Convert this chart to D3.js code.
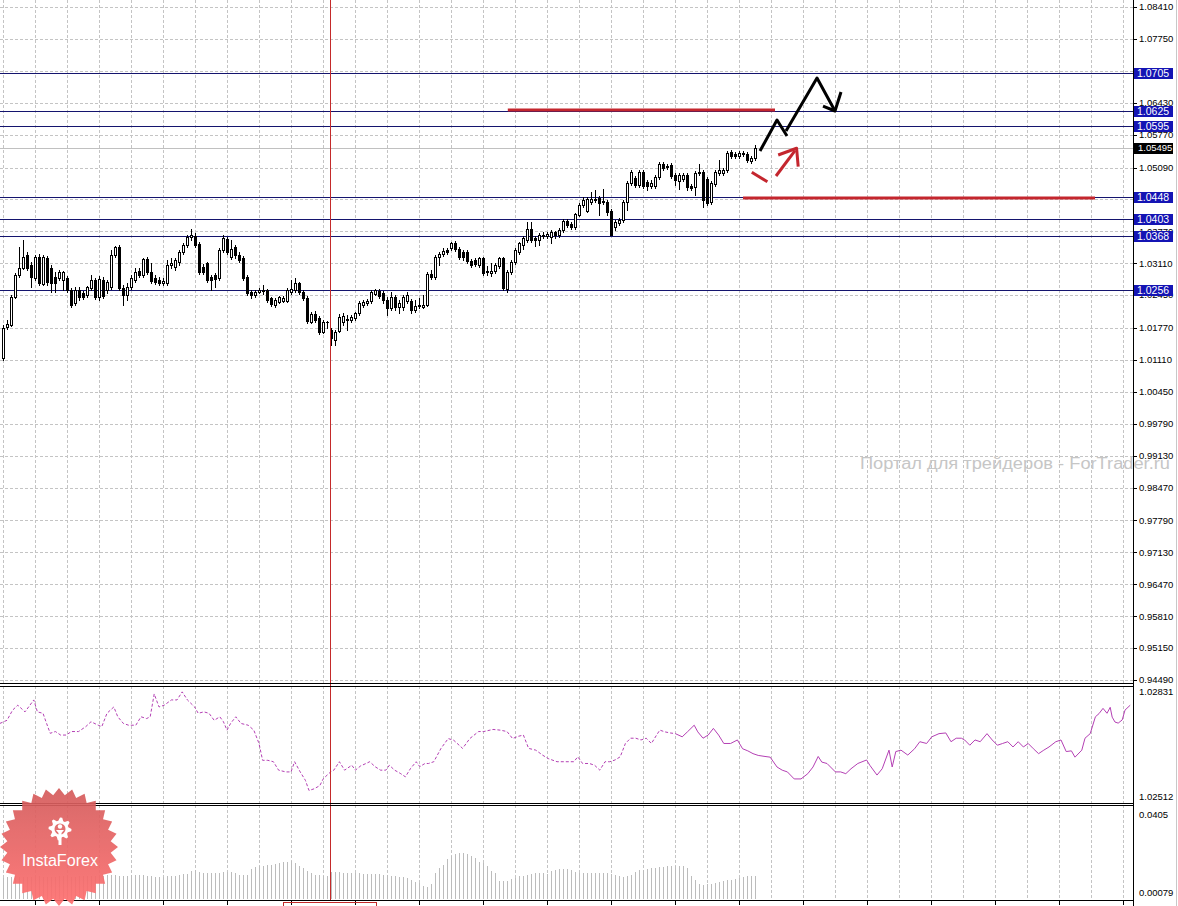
<!DOCTYPE html>
<html>
<head>
<meta charset="utf-8">
<script src="https://cdn.jsdelivr.net/npm/d3@7"></script>
<style>
  body { margin: 0; background: #fff; }
  svg { display: block; }
  text { font-family: "Liberation Sans", Arial, sans-serif; }
</style>
</head>
<body>
<svg id="chart" width="1178" height="906"></svg>
<script>
// EURUSD-style daily candles
const opens = [1.0115,1.0179,1.0183,1.0241,1.0286,1.0301,1.0328,1.0308,1.0280,1.0324,1.0268,1.0322,1.0301,1.0282,1.0280,1.0276,1.0280,1.0255,1.0229,1.0255,1.0249,1.0245,1.0259,1.0276,1.0241,1.0276,1.0255,1.0261,1.0328,1.0344,1.0259,1.0245,1.0261,1.0276,1.0295,1.0286,1.0320,1.0293,1.0280,1.0276,1.0270,1.0270,1.0307,1.0303,1.0314,1.0334,1.0349,1.0365,1.0367,1.0351,1.0303,1.0311,1.0282,1.0286,1.0280,1.0338,1.0361,1.0324,1.0344,1.0328,1.0322,1.0282,1.0251,
  1.0245,1.0251,1.0255,1.0255,1.0239,1.0225,1.0231,1.0233,1.0233,1.0251,1.0255,1.0270,1.0251,1.0239,1.0189,1.0206,1.0197,1.0169,1.0189,1.0173,1.0152,1.0171,1.0189,1.0193,1.0193,1.0197,1.0208,1.0225,1.0229,1.0233,1.0247,1.0253,1.0249,1.0235,1.0218,1.0241,1.0221,1.0221,1.0233,1.0233,1.0214,1.0225,1.0221,1.0225,1.0289,1.0282,1.0324,1.0330,1.0338,1.0342,1.0353,1.0340,1.0334,1.0334,1.0316,1.0318,1.0307,1.0322,1.0293,1.0291,1.0295,1.0305,1.0322,
  1.0257,1.0293,1.0314,1.0334,1.0349,1.0359,1.0382,1.0363,1.0359,1.0369,1.0367,1.0365,1.0376,1.0369,1.0380,1.0398,1.0392,1.0386,1.0411,1.0431,1.0419,1.0438,1.0442,1.0446,1.0438,1.0438,1.0419,1.0386,1.0394,1.0400,1.0438,1.0477,1.0487,1.0473,1.0500,1.0479,1.0471,1.0471,1.0490,1.0516,1.0512,1.0514,1.0494,1.0481,1.0485,1.0494,1.0471,1.0469,1.0498,1.0500,1.0485,1.0438,1.0475,1.0498,1.0498,1.0504,1.0541,1.0537,1.0533,1.0539,1.0537,1.0523,1.0529];
const highs = [1.0183,1.0193,1.0245,1.0290,1.0344,1.0359,1.0334,1.0314,1.0328,1.0330,1.0328,1.0326,1.0307,1.0293,1.0297,1.0295,1.0284,1.0259,1.0261,1.0261,1.0253,1.0263,1.0286,1.0280,1.0284,1.0282,1.0276,1.0338,1.0346,1.0348,1.0266,1.0270,1.0286,1.0301,1.0301,1.0322,1.0324,1.0311,1.0286,1.0282,1.0280,1.0318,1.0322,1.0322,1.0338,1.0353,1.0369,1.0382,1.0373,1.0355,1.0309,1.0314,1.0286,1.0290,1.0342,1.0369,1.0365,1.0359,1.0349,1.0334,1.0326,1.0286,1.0255,
  1.0255,1.0259,1.0266,1.0257,1.0241,1.0239,1.0243,1.0243,1.0259,1.0276,1.0280,1.0272,1.0255,1.0243,1.0210,1.0212,1.0202,1.0193,1.0191,1.0177,1.0173,1.0206,1.0208,1.0204,1.0204,1.0210,1.0233,1.0235,1.0237,1.0255,1.0257,1.0257,1.0253,1.0241,1.0251,1.0245,1.0235,1.0245,1.0251,1.0237,1.0235,1.0239,1.0245,1.0293,1.0297,1.0328,1.0334,1.0342,1.0342,1.0355,1.0357,1.0344,1.0338,1.0338,1.0320,1.0322,1.0324,1.0324,1.0305,1.0311,1.0311,1.0324,1.0324,
  1.0297,1.0318,1.0342,1.0355,1.0367,1.0396,1.0396,1.0367,1.0373,1.0376,1.0376,1.0380,1.0378,1.0384,1.0402,1.0402,1.0396,1.0415,1.0435,1.0448,1.0448,1.0458,1.0462,1.0450,1.0464,1.0442,1.0423,1.0400,1.0404,1.0442,1.0481,1.0504,1.0491,1.0504,1.0504,1.0483,1.0483,1.0494,1.0520,1.0520,1.0516,1.0518,1.0498,1.0498,1.0498,1.0498,1.0475,1.0502,1.0516,1.0504,1.0489,1.0481,1.0504,1.0525,1.0508,1.0543,1.0545,1.0541,1.0543,1.0543,1.0541,1.0533,1.0556];
const lows = [1.0110,1.0175,1.0181,1.0239,1.0282,1.0299,1.0297,1.0261,1.0276,1.0266,1.0266,1.0266,1.0251,1.0251,1.0276,1.0255,1.0251,1.0221,1.0225,1.0235,1.0237,1.0241,1.0255,1.0237,1.0235,1.0239,1.0249,1.0257,1.0324,1.0255,1.0225,1.0235,1.0257,1.0272,1.0282,1.0282,1.0289,1.0270,1.0268,1.0266,1.0266,1.0266,1.0301,1.0297,1.0307,1.0330,1.0344,1.0359,1.0344,1.0289,1.0289,1.0272,1.0255,1.0261,1.0276,1.0334,1.0330,1.0320,1.0322,1.0314,1.0276,1.0245,1.0239,
  1.0241,1.0249,1.0247,1.0231,1.0223,1.0221,1.0229,1.0231,1.0231,1.0247,1.0251,1.0247,1.0235,1.0187,1.0187,1.0189,1.0165,1.0167,1.0177,1.0142,1.0142,1.0169,1.0183,1.0173,1.0189,1.0193,1.0204,1.0221,1.0225,1.0229,1.0245,1.0239,1.0229,1.0204,1.0214,1.0214,1.0208,1.0214,1.0229,1.0208,1.0210,1.0218,1.0218,1.0223,1.0278,1.0278,1.0307,1.0326,1.0330,1.0338,1.0336,1.0320,1.0318,1.0311,1.0303,1.0305,1.0303,1.0286,1.0286,1.0284,1.0291,1.0301,1.0255,
  1.0251,1.0289,1.0309,1.0330,1.0340,1.0355,1.0355,1.0346,1.0349,1.0363,1.0363,1.0353,1.0363,1.0365,1.0376,1.0386,1.0382,1.0382,1.0409,1.0427,1.0417,1.0433,1.0438,1.0411,1.0433,1.0411,1.0369,1.0380,1.0390,1.0396,1.0421,1.0473,1.0469,1.0469,1.0467,1.0462,1.0467,1.0467,1.0485,1.0504,1.0506,1.0487,1.0473,1.0465,1.0481,1.0462,1.0462,1.0452,1.0494,1.0427,1.0431,1.0433,1.0471,1.0494,1.0494,1.0500,1.0529,1.0529,1.0529,1.0533,1.0521,1.0518,1.0525];
const closes = [1.0177,1.0185,1.0241,1.0286,1.0301,1.0324,1.0301,1.0282,1.0324,1.0270,1.0324,1.0272,1.0270,1.0270,1.0293,1.0293,1.0255,1.0225,1.0255,1.0241,1.0241,1.0261,1.0276,1.0241,1.0278,1.0243,1.0272,1.0328,1.0344,1.0259,1.0245,1.0261,1.0280,1.0293,1.0286,1.0320,1.0293,1.0274,1.0272,1.0270,1.0274,1.0307,1.0311,1.0318,1.0334,1.0349,1.0365,1.0369,1.0349,1.0293,1.0293,1.0276,1.0276,1.0278,1.0338,1.0363,1.0334,1.0340,1.0328,1.0318,1.0280,1.0249,1.0245,
  1.0251,1.0255,1.0253,1.0235,1.0227,1.0235,1.0241,1.0239,1.0255,1.0257,1.0270,1.0251,1.0239,1.0191,1.0206,1.0193,1.0169,1.0189,1.0190,1.0156,1.0169,1.0199,1.0202,1.0195,1.0199,1.0208,1.0229,1.0231,1.0233,1.0251,1.0255,1.0243,1.0235,1.0218,1.0241,1.0221,1.0229,1.0241,1.0245,1.0214,1.0223,1.0223,1.0225,1.0289,1.0282,1.0324,1.0330,1.0336,1.0334,1.0353,1.0340,1.0324,1.0324,1.0316,1.0307,1.0309,1.0322,1.0291,1.0295,1.0295,1.0307,1.0322,1.0259,
  1.0293,1.0314,1.0338,1.0353,1.0363,1.0382,1.0359,1.0359,1.0369,1.0368,1.0371,1.0376,1.0369,1.0380,1.0398,1.0390,1.0386,1.0413,1.0431,1.0442,1.0444,1.0444,1.0444,1.0435,1.0440,1.0417,1.0369,1.0396,1.0400,1.0438,1.0477,1.0500,1.0473,1.0500,1.0471,1.0471,1.0477,1.0490,1.0516,1.0508,1.0510,1.0491,1.0483,1.0494,1.0494,1.0469,1.0467,1.0498,1.0500,1.0442,1.0435,1.0477,1.0500,1.0504,1.0504,1.0539,1.0533,1.0533,1.0539,1.0537,1.0525,1.0529,1.05495];

// lower histogram indicator, one value per candle
const histValues = [0.0098,0.0101,0.0103,0.0104,0.0102,0.0100,0.0101,0.0103,0.0105,0.0104,0.0102,0.0101,0.0100,0.0102,0.0104,0.0106,0.0105,0.0103,0.0102,0.0104,0.0106,0.0108,0.0107,0.0106,
  0.0106,0.0108,0.0110,0.0111,0.0109,0.0107,0.0106,0.0108,0.0110,0.0112,0.0111,0.0109,0.0107,
  0.0104,0.0102,0.0101,0.0102,0.0104,0.0106,0.0108,0.0110,0.0113,0.0116,0.0128,0.0132,
  0.0124,0.0121,0.0119,0.0118,0.0120,0.0121,0.0123,0.0124,0.0122,0.0120,0.0112,0.0110,0.0111,
  0.0138,0.0143,0.0148,0.0150,0.0152,0.0155,0.0158,0.0161,0.0165,0.0168,0.0171,0.0160,0.0150,0.0140,
  0.0128,0.0118,0.0112,0.0110,0.0108,0.0107,0.0124,0.0123,0.0122,0.0121,0.0120,
  0.0119,0.0118,0.0117,0.0116,0.0115,0.0115,0.0114,0.0113,0.0112,0.0110,0.0106,0.0104,0.0102,0.0100,0.0098,
  0.0088,0.0080,0.0076,0.0064,0.0060,0.0070,0.0118,0.0140,0.0155,0.0178,0.0190,0.0198,0.0204,0.0203,
  0.0198,0.0192,0.0184,0.0168,0.0160,0.0150,0.0128,0.0118,0.0085,0.0083,0.0086,0.0092,0.0098,
  0.0104,0.0107,0.0110,0.0114,0.0118,0.0120,0.0118,0.0114,0.0128,0.0133,0.0136,0.0137,0.0134,0.0130,
  0.0124,0.0121,0.0119,0.0119,0.0118,0.0117,0.0118,0.0117,0.0118,0.0116,0.0112,0.0106,0.0103,0.0104,0.0110,
  0.0125,0.0130,0.0132,0.0136,0.0139,0.0141,0.0143,0.0146,0.0148,0.0150,0.0150,0.0149,0.0147,0.0140,
  0.0105,0.0090,0.0070,0.0068,0.0070,0.0073,0.0076,0.0082,0.0086,0.0089,0.0090,0.0095,0.0098,0.0102,0.0104,0.0106,0.0106];

// comparison line in the middle window (bar position, value)
const indBars = [-0.8,1.0,2.4,3.7,5.5,6.4,7.7,8.6,10.0,10.9,11.8,13.1,14.4,15.8,17.1,18.9,20.7,22.0,23.8,24.7,26.0,27.7,28.7,30.1,31.4,33.2,34.5,35.9,36.8,37.8,39.0,40.3,42.1,43.5,44.8,46.1,47.9,48.8,50.2,51.5,52.8,54.2,55.1,56.0,56.9,58.2,59.5,61.3,62.7,64.0,64.9,66.2,67.6,68.9,70.7,72.0,72.9,74.3,75.6,76.5,77.8,79.2,80.1,81.9,82.7,84.1,85.4,87.2,88.1,89.4,91.7,93.0,94.4,95.7,96.6,97.9,99.3,100.6,101.9,103.3,104.2,105.5,106.4,107.7,109.5,111.3,112.7,114.9,116.7,118.9,120.2,122.5,124.3,126.0,127.4,128.7,130.1,131.4,133.2,135.0,136.3,138.5,
  141.0,142.7,143.7,144.9,146.6,147.9,149.2,150.5,151.7,153.0,154.3,155.6,156.9,158.2,159.5,160.8,162.1,163.4,164.2,165.5,166.8,168.1,169.8,171.1,172.8,173.7,175.0,176.3,177.6,178.9,180.2,181.9,183.6,184.9,186.2,187.5,188.8,190.5,191.8,193.5,194.8,196.1,197.8,199.5,201.2,202.5,203.8,204.7,206.0,208.1,209.4,210.7,212.0,213.7,215.9,216.7,218.5,219.8,221.5,222.3,223.2,224.5,226.2,227.9,229.2,230.9,232.2,234.0,235.7,237.0,238.3,239.6,240.4,241.7,243.0,244.3,246.0,247.3,248.6,249.9,251.2,252.5,253.8,255.1,256.3,257.6,258.9,260.2,261.5,263.2,264.5,265.8,267.1,268.0,269.7,270.5,271.8,273.1,274.0,275.0,276.0,276.8,277.3,278.0,278.8,279.8,280.5,281.8];
const indValues = [1.02730,1.02739,1.02768,1.02782,1.02763,1.02777,1.02797,1.02763,1.02759,1.02730,1.02702,1.02707,1.02697,1.02697,1.02707,1.02707,1.02721,1.02735,1.02725,1.02721,1.02759,1.02777,1.02749,1.02730,1.02725,1.02725,1.02749,1.02744,1.02749,1.02814,1.02777,1.02782,1.02797,1.02797,1.02820,1.02797,1.02777,1.02759,1.02763,1.02759,1.02739,1.02749,1.02735,1.02711,1.02730,1.02749,1.02730,1.02725,1.02711,1.02673,1.02625,1.02625,1.02621,1.02597,1.02592,1.02592,1.02621,1.02592,1.02568,1.02539,1.02544,1.02553,1.02573,1.02592,1.02597,1.02621,1.02597,1.02611,1.02597,1.02609,1.02621,1.02607,1.02597,1.02597,1.02611,1.02597,1.02588,1.02578,1.02602,1.02621,1.02607,1.02616,1.02616,1.02621,1.02659,1.02687,1.02682,1.02659,1.02687,1.02707,1.02707,1.02713,1.02711,1.02707,1.02687,1.02693,1.02697,1.02659,1.02654,1.02639,1.02630,1.02621,
  1.02621,1.02621,1.02635,1.02616,1.02616,1.02611,1.02597,1.02621,1.02621,1.02626,1.02635,1.02673,1.02688,1.02688,1.02683,1.02688,1.02673,1.02697,1.02711,1.02706,1.02703,1.02701,1.02692,1.02706,1.02725,1.02706,1.02688,1.02697,1.02716,1.02697,1.02673,1.02673,1.02683,1.02658,1.02652,1.02644,1.02639,1.02636,1.02634,1.02606,1.02597,1.02592,1.02572,1.02572,1.02587,1.02606,1.02636,1.02620,1.02616,1.02592,1.02592,1.02587,1.02601,1.02616,1.02626,1.02611,1.02583,1.02601,1.02654,1.02606,1.02650,1.02654,1.02640,1.02658,1.02678,1.02673,1.02692,1.02701,1.02703,1.02678,1.02688,1.02688,1.02683,1.02668,1.02683,1.02678,1.02701,1.02683,1.02668,1.02673,1.02678,1.02663,1.02678,1.02663,1.02673,1.02658,1.02644,1.02654,1.02663,1.02678,1.02683,1.02650,1.02652,1.02634,1.02654,1.02688,1.02701,1.02749,1.02758,1.02773,1.02759,1.02776,1.02748,1.02734,1.02731,1.02740,1.02768,1.02782];
const indDashedUntil = 168.1;

const priceTicks = [1.08410,1.07750,1.07090,1.06430,1.05770,1.05090,1.04430,1.03770,1.03110,1.02450,1.01770,1.01110,1.00450,0.99790,0.99130,0.98470,0.97790,0.97130,0.96470,0.95810,0.95150,0.94490];
const levelPrices = [1.0705,1.0625,1.0595,1.0448,1.0403,1.0368,1.0256];
const levelLabels = ["1.0705","1.0625","1.0595","1.0448","1.0403","1.0368","1.0256"];
const lastPrice = 1.05495;
const indTicks = [1.02831,1.02512];
const histTicks = [0.0405,0.00079];

// hand-drawn forecast marks: [bar, price]
const redLineStart = [126.2,185];
const redLineEnd = [193,273];
const redLinePrice = [1.0628,1.0446];
const blackPathA = [[189.25,1.05432],[193.5,1.06073],[196,1.05742]];
const blackPathB = [[195.75,1.05845],[203.5,1.06942],[208,1.06259]];
const blackArrow = [[205,1.06362],[208,1.06259],[209.5,1.06652]];
const redDashes = [[[187.2,1.04991],[191.1,1.04797]],[[193.25,1.04915],[198,1.05438]],[[193.8,1.05349],[198.4,1.05488],[198.8,1.05107]]];
const crossBar = 82;

const svg = d3.select("#chart");
const W = 1178, plotRight = 1133;
const mainTop = 0, mainBottom = 683, indTop = 686, indBottom = 803, histTop = 805, histBottom = 900;

const x = d3.scaleLinear().domain([0, 282]).range([3, 1131]);
const y = d3.scaleLinear().domain([0.94490, 1.08410]).range([680, 7]);
const yInd = d3.scaleLinear().domain([1.02512, 1.02831]).range([800, 688]);
const yHist = d3.scaleLinear().domain([0.00079, 0.0405]).range([899, 806]);
const px = v => Math.round(v) + 0.5;

const gridBars = d3.range(0, 283, 8);

// vertical dashed grid in every window
[[mainTop, mainBottom], [indTop, indBottom], [histTop, histBottom]].forEach(([t, b]) => {
  svg.append("g").selectAll("line").data(gridBars).join("line")
    .attr("x1", d => px(x(d))).attr("x2", d => px(x(d)))
    .attr("y1", t).attr("y2", b)
    .attr("stroke", "#c4c4c4").attr("stroke-dasharray", "3,2");
});

// horizontal dashed grid
svg.append("g").selectAll("line").data(priceTicks).join("line")
  .attr("x1", 0).attr("x2", plotRight)
  .attr("y1", d => px(y(d))).attr("y2", d => px(y(d)))
  .attr("stroke", "#c4c4c4").attr("stroke-dasharray", "3,2");

// watermark
svg.append("text").attr("x", 860).attr("y", 469)
  .attr("font-size", 16).attr("fill", "#c6c6c6")
  .attr("textLength", 310).attr("lengthAdjust", "spacingAndGlyphs")
  .text("Портал для трейдеров - ForTrader.ru");

// current price line
svg.append("line").attr("x1", 0).attr("x2", plotRight)
  .attr("y1", px(y(lastPrice))).attr("y2", px(y(lastPrice)))
  .attr("stroke", "#c0c0c0");

// horizontal levels
svg.append("g").selectAll("line").data(levelPrices).join("line")
  .attr("x1", 0).attr("x2", plotRight)
  .attr("y1", d => px(y(d))).attr("y2", d => px(y(d)))
  .attr("stroke", "#14146e");

// histogram
svg.append("g").selectAll("line").data(histValues).join("line")
  .attr("x1", (d, i) => px(x(i))).attr("x2", (d, i) => px(x(i)))
  .attr("y1", histBottom - 1).attr("y2", d => Math.round(yHist(d)))
  .attr("stroke", "#bcbcbc");

// comparison line
const indPts = indBars.map((b, i) => [b, indValues[i]]);
const indLine = d3.line().x(d => x(d[0])).y(d => yInd(d[1]));
svg.append("path").attr("d", indLine(indPts.filter(d => d[0] <= indDashedUntil)))
  .attr("fill", "none").attr("stroke", "#b440b4").attr("stroke-dasharray", "3,2");
svg.append("path").attr("d", indLine(indPts.filter(d => d[0] >= indDashedUntil)))
  .attr("fill", "none").attr("stroke", "#b440b4");

// candles
const candles = opens.map((o, i) => ({ i, o, h: highs[i], l: lows[i], c: closes[i] }));
const cg = svg.append("g");
cg.selectAll("line").data(candles).join("line")
  .attr("x1", d => px(x(d.i))).attr("x2", d => px(x(d.i)))
  .attr("y1", d => Math.round(y(d.h))).attr("y2", d => Math.round(y(d.l)) + 1)
  .attr("stroke", "#000");
cg.selectAll("rect").data(candles).join("rect")
  .attr("x", d => Math.round(x(d.i)) - 0.5).attr("width", 2)
  .attr("y", d => px(y(Math.max(d.o, d.c))))
  .attr("height", d => Math.max(0.01, Math.round(y(Math.min(d.o, d.c))) - Math.round(y(Math.max(d.o, d.c)))))
  .attr("fill", d => d.c >= d.o ? "#fff" : "#000")
  .attr("stroke", "#000");

// crosshair
svg.append("line").attr("x1", px(x(crossBar) - 1)).attr("x2", px(x(crossBar) - 1))
  .attr("y1", 0).attr("y2", histBottom).attr("stroke", "#c42a2a");

// forecast drawings
const pathGen = d3.line().x(d => x(d[0])).y(d => y(d[1]));
svg.append("g").selectAll("line").data(redLinePrice).join("line")
  .attr("x1", (d, i) => x(redLineStart[i])).attr("x2", (d, i) => x(redLineEnd[i]))
  .attr("y1", d => y(d)).attr("y2", d => y(d))
  .attr("stroke", "#c4262e").attr("stroke-width", 3);
[blackPathA, blackPathB, blackArrow].forEach(p => {
  svg.append("path").attr("d", pathGen(p)).attr("fill", "none")
    .attr("stroke", "#000").attr("stroke-width", 3).attr("stroke-linejoin", "round");
});
redDashes.forEach(p => {
  svg.append("path").attr("d", pathGen(p)).attr("fill", "none")
    .attr("stroke", "#c4262e").attr("stroke-width", 3).attr("stroke-linejoin", "round");
});

// window frames
const frame = svg.append("g").attr("stroke", "#000").attr("fill", "none");
frame.append("line").attr("x1", 0).attr("x2", plotRight).attr("y1", mainBottom + 0.5).attr("y2", mainBottom + 0.5);
frame.append("line").attr("x1", 0).attr("x2", plotRight).attr("y1", indTop + 0.5).attr("y2", indTop + 0.5);
frame.append("line").attr("x1", 0).attr("x2", plotRight).attr("y1", indBottom + 0.5).attr("y2", indBottom + 0.5);
frame.append("line").attr("x1", 0).attr("x2", plotRight).attr("y1", histTop + 0.5).attr("y2", histTop + 0.5);
frame.append("line").attr("x1", 0).attr("x2", plotRight).attr("y1", histBottom + 0.5).attr("y2", histBottom + 0.5);
frame.append("line").attr("x1", plotRight + 0.5).attr("x2", plotRight + 0.5).attr("y1", 0).attr("y2", 906);
frame.selectAll(".tt").data(gridBars.filter((d, k) => k % 2 === 1)).join("line")
  .attr("x1", d => px(x(d))).attr("x2", d => px(x(d)))
  .attr("y1", histBottom).attr("y2", histBottom + 5);
svg.append("rect").attr("x", 283.5).attr("y", 902.5).attr("width", 93).attr("height", 10)
  .attr("fill", "none").attr("stroke", "#c42a2a");
svg.append("line").attr("x1", W - 1.5).attr("x2", W - 1.5).attr("y1", 0).attr("y2", 906)
  .attr("stroke", "#c8c8c8");

// price axis (labels sitting fully under a level tag are not visible in the original)
const hiddenUnderTag = p => levelPrices.some(l => Math.abs(y(l) - y(p)) < 3);
const ax = svg.append("g").attr("font-size", 9.5).attr("fill", "#000");
ax.selectAll("line").data(priceTicks).join("line")
  .attr("x1", plotRight).attr("x2", plotRight + 4)
  .attr("y1", d => px(y(d))).attr("y2", d => px(y(d))).attr("stroke", "#000");
ax.selectAll("text").data(priceTicks.filter(p => !hiddenUnderTag(p))).join("text")
  .attr("x", 1139).attr("y", d => y(d)).attr("dy", "0.35em")
  .text(d => d.toFixed(5));

const ax2 = svg.append("g").attr("font-size", 9.5).attr("fill", "#000");
ax2.append("text").attr("x", 1139).attr("y", 692).attr("dy", "0.35em").text(indTicks[0].toFixed(5));
ax2.append("text").attr("x", 1139).attr("y", 797).attr("dy", "0.35em").text(indTicks[1].toFixed(5));
ax2.append("text").attr("x", 1139).attr("y", 815).attr("dy", "0.35em").text(histTicks[0].toFixed(4));
ax2.append("text").attr("x", 1139).attr("y", 893).attr("dy", "0.35em").text(histTicks[1].toFixed(5));

// level tags
const tags = svg.append("g");
levelPrices.forEach((p, i) => {
  const ty = Math.round(y(p));
  tags.append("rect").attr("x", 1134).attr("y", ty - 5).attr("width", 39).attr("height", 11).attr("fill", "#1414b4");
  tags.append("text").attr("x", 1137).attr("y", ty).attr("dy", "0.37em")
    .attr("font-size", 10.5).attr("fill", "#fff").text(levelLabels[i]);
});
const ly = Math.round(y(lastPrice));
tags.append("rect").attr("x", 1134).attr("y", ly - 5).attr("width", 39).attr("height", 11).attr("fill", "#000");
tags.append("text").attr("x", 1138).attr("y", ly).attr("dy", "0.36em")
  .attr("font-size", 9.5).attr("fill", "#fff").text(lastPrice.toFixed(5));

// InstaForex badge
const defs = svg.append("defs");
const grad = defs.append("linearGradient").attr("id", "badge").attr("x1", 0).attr("x2", 0).attr("y1", 0).attr("y2", 1);
grad.append("stop").attr("offset", "0%").attr("stop-color", "#d45c5c");
grad.append("stop").attr("offset", "100%").attr("stop-color", "#ff7070");
const cx = 59, cy = 847;
const star = d3.range(56).map(k => {
  const a = k * Math.PI / 28 - Math.PI / 2;
  const r = k % 2 ? 52 : 59;
  return [cx + r * Math.cos(a), cy + r * Math.sin(a)];
});
const badge = svg.append("g").attr("opacity", 0.92);
badge.append("path").attr("d", d3.line().curve(d3.curveLinearClosed)(star)).attr("fill", "url(#badge)");
const gear = d3.range(32).map(k => {
  const a = k * Math.PI / 16;
  const r = Math.floor(k / 2) % 2 ? 8.5 : 11.5;
  return [cx + 1 + r * Math.cos(a), 829 + r * Math.sin(a)];
});
badge.append("path").attr("d", d3.line().curve(d3.curveLinearClosed)(gear)).attr("fill", "#fff");
badge.append("circle").attr("cx", cx + 1).attr("cy", 829).attr("r", 5.5).attr("fill", "#e06666");
badge.append("circle").attr("cx", cx + 1).attr("cy", 826.5).attr("r", 2.2).attr("fill", "#fff");
badge.append("path").attr("d", `M${cx - 3},830 L${cx + 5},830 L${cx + 2.5},833 L${cx + 2.5},845 L${cx - 0.5},845 L${cx - 0.5},833 Z`).attr("fill", "#fff");
badge.append("text").attr("x", cx + 1).attr("y", 866).attr("text-anchor", "middle")
  .attr("font-size", 16).attr("fill", "#fff").attr("textLength", 76).attr("lengthAdjust", "spacingAndGlyphs")
  .text("InstaForex");
</script>
</body>
</html>
